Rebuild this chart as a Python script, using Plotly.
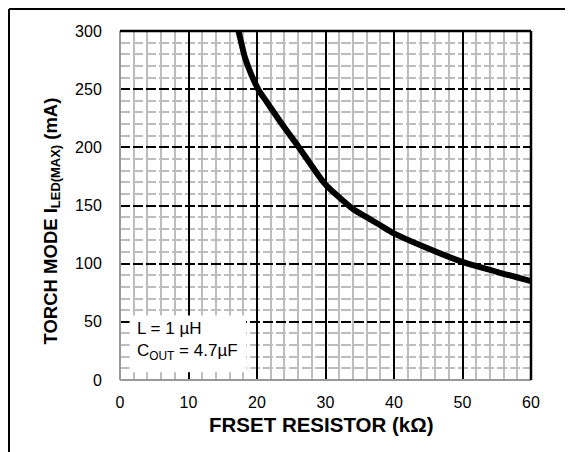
import plotly.graph_objects as go

# Data
resistor_k = [17.3, 17.7, 18.2, 18.8, 19.5, 20.3, 21.2, 22, 24, 26, 28, 30, 32, 34, 36, 38, 40, 45, 50, 55, 60]
i_led_ma = [300, 290, 278, 268, 258, 248.5, 241, 234, 217, 201, 184, 168, 157, 147, 140, 133, 126, 113, 101.5, 93, 85]

x_ticks = [0, 10, 20, 30, 40, 50, 60]
y_ticks = [0, 50, 100, 150, 200, 250, 300]

FONT = "Arial, Liberation Sans, sans-serif"
OFF = 8  # page body margin
W, H = 565, 444
L, R, T, B = 112, 42, 23, 72
PW, PH = W - L - R, H - T - B


def px_x(p):
    """page pixel x -> paper"""
    return (p - OFF - L) / PW


def px_y(p):
    """page pixel y -> paper"""
    return (H - B - (p - OFF)) / PH


fig = go.Figure()
fig.add_trace(go.Scatter(
    x=resistor_k, y=i_led_ma, mode="lines",
    line=dict(color="black", width=6, shape="spline", smoothing=0.8),
    showlegend=False, hoverinfo="skip"))

fig.update_layout(
    width=W, height=H,
    margin=dict(l=L, r=R, t=T, b=B, pad=0),
    paper_bgcolor="white", plot_bgcolor="white",
    font=dict(family=FONT, size=16, color="black"),
    xaxis=dict(
        range=[0, 60], tickvals=x_ticks, ticktext=[str(v) for v in x_ticks],
        showgrid=True, gridcolor="black", gridwidth=2,
        minor=dict(dtick=2, showgrid=True, gridcolor="#bdbdbd", gridwidth=2),
        zeroline=True, zerolinecolor="#999999", zerolinewidth=2,
        showline=False, ticks="outside", ticklen=8, tickcolor="rgba(0,0,0,0)",
        tickfont=dict(size=16, family=FONT, color="black"),
    ),
    yaxis=dict(
        range=[0, 300], tickvals=y_ticks, ticktext=[str(v) for v in y_ticks],
        showgrid=True, gridcolor="black", gridwidth=2, griddash="10px,3px",
        minor=dict(dtick=10, showgrid=True, gridcolor="#bdbdbd", gridwidth=2),
        zeroline=True, zerolinecolor="#999999", zerolinewidth=2,
        showline=False, ticks="outside", ticklen=14, tickcolor="rgba(0,0,0,0)",
        tickfont=dict(size=16, family=FONT, color="black"),
    ),
)

# legend box (white, hides grid)
fig.add_shape(type="rect", xref="x", yref="y", x0=1.4, x1=18.4, y0=6.7, y1=55.5,
              fillcolor="white", line=dict(width=0), layer="between")
fig.add_annotation(xref="x", yref="y", x=2.2, y=33.6, xanchor="left", yanchor="middle",
                   align="left", showarrow=False,
                   text="L = 1 µH<br>C<sub>OUT</sub> = 4.7µF",
                   font=dict(size=17, family=FONT, color="black"))

# top and right borders of plot
fig.add_shape(type="line", xref="paper", yref="paper", x0=0, x1=1, y0=1, y1=1,
              line=dict(color="black", width=2.5), layer="above")
fig.add_shape(type="line", xref="paper", yref="paper", x0=1, x1=1, y0=0, y1=1,
              line=dict(color="black", width=2.5), layer="above")

# outer frame (left and top edges visible)
fx = (1 - L) / PW
fy = (H - B - 1) / PH
fig.add_shape(type="line", xref="paper", yref="paper", x0=fx, x1=(W + 20 - L) / PW,
              y0=fy, y1=fy, line=dict(color="black", width=2))
fig.add_shape(type="line", xref="paper", yref="paper", x0=fx, x1=fx,
              y0=fy, y1=(H - B - H - 20) / PH, line=dict(color="black", width=2))

# axis titles
fig.add_annotation(xref="paper", yref="paper", x=px_x(321.5), y=px_y(424),
                   xanchor="center", yanchor="middle", showarrow=False,
                   text="<b>FRSET RESISTOR (kΩ)</b>",
                   font=dict(size=20.5, family=FONT, color="black"))
fig.add_annotation(xref="paper", yref="paper", x=px_x(51.5), y=px_y(221),
                   xanchor="center", yanchor="middle", showarrow=False, textangle=-90,
                   text="<b>TORCH MODE I<sub>LED(MAX)</sub> (mA)</b>",
                   font=dict(size=18.5, family=FONT, color="black"))

fig.write_html("out.html")
